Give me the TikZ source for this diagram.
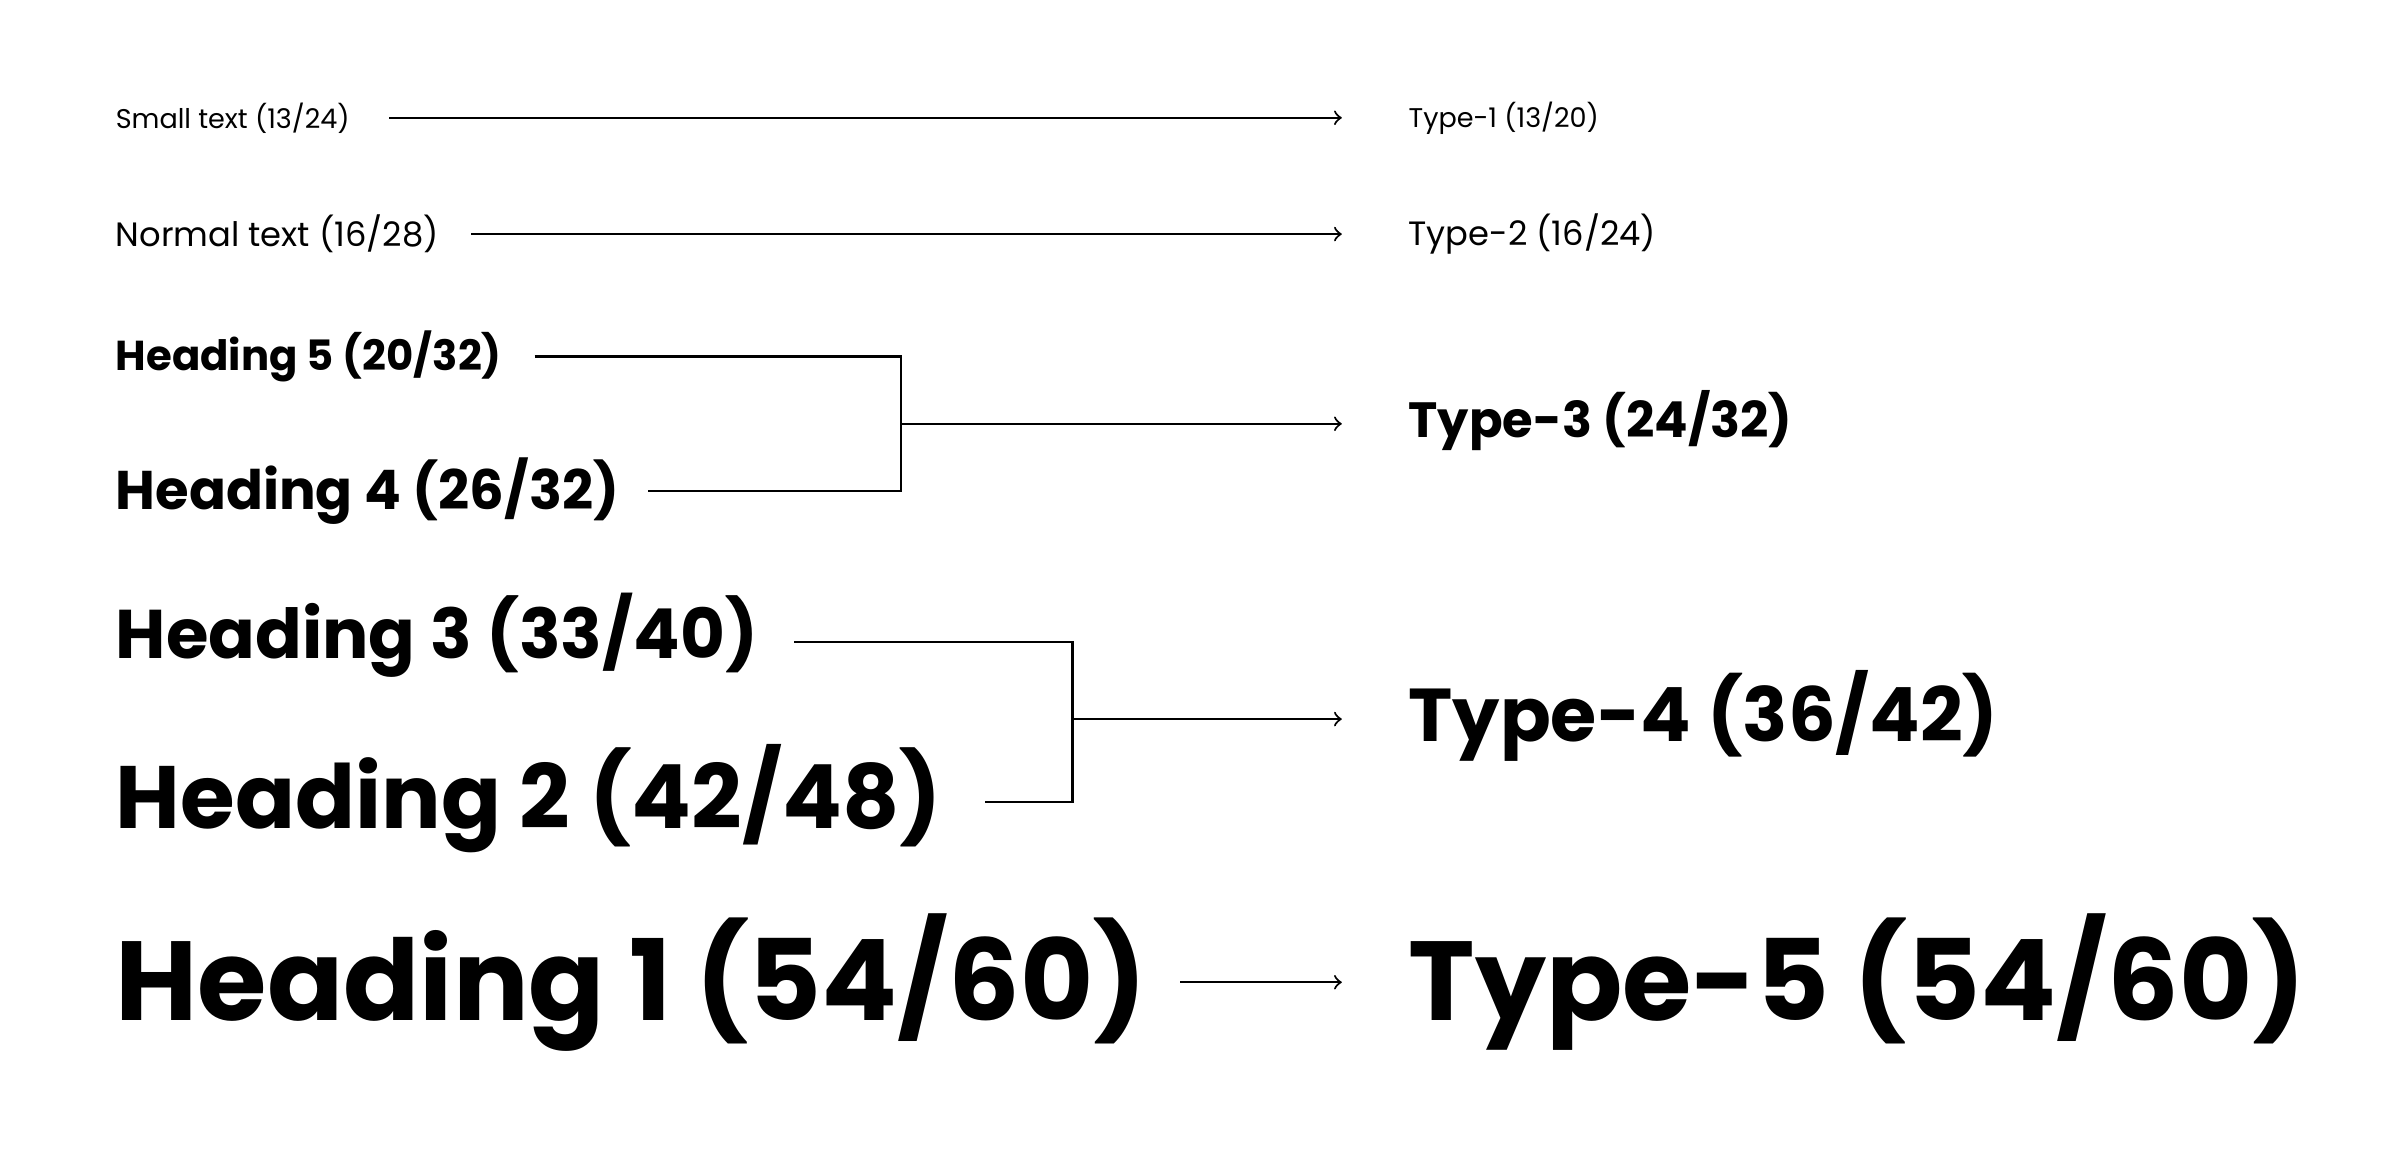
\documentclass[tikz,border=0pt]{standalone}
\usepackage{fontspec}
\setmainfont{Poppins}
\usepackage{tikz}
\newcommand{\fs}[1]{\fontsize{#1}{#1}\selectfont}

\begin{document}
\begin{tikzpicture}[x=0.0153cm,y=-0.0153cm,line width=0.6pt,
  lbl/.style={anchor=west,inner sep=0pt}]
\useasboundingbox (0,0) rectangle (1568,752);
% left column
\node[lbl] (s1) at (75,77) {\fs{7.7}Small text (13/24)};
\node[lbl] (s2) at (75,153) {\fs{9.6}Normal text (16/28)};
\node[lbl] (h5) at (75,233) {\fs{11.9}\bfseries Heading 5 (20/32)};
\node[lbl] (h4) at (75,321) {\fs{15.5}\bfseries Heading 4 (26/32)};
\node[lbl] (h3) at (75,415) {\fs{19.6}\bfseries Heading 3 (33/40)};
\node[lbl] (h2) at (75,522) {\fs{25.2}\bfseries Heading 2 (42/48)};
\node[lbl] (h1) at (75,642) {\fs{32}\bfseries Heading 1 (54/60)};
% right column
\node[lbl] (t1) at (920,77) {\fs{7.7}Type-1 (13/20)};
\node[lbl] (t2) at (920,153) {\fs{9.6}Type-2 (16/24)};
\node[lbl] (t3) at (920,275) {\fs{14.1}\bfseries Type-3 (24/32)};
\node[lbl] (t4) at (920,468) {\fs{21.3}\bfseries Type-4 (36/42)};
\node[lbl] (t5) at (920,642) {\fs{32}\bfseries Type-5 (54/60)};
\coordinate (j1) at (589,277);
\coordinate (j2) at (701,470);
\coordinate (e1) at (877,77);
\coordinate (e2) at (877,153);
\coordinate (e3) at (877,277);
\coordinate (e4) at (877,470);
\coordinate (e5) at (877,642);
% connectors
\draw[->] ([xshift=11pt]s1.east) -- (e1);
\draw[->] ([xshift=9pt]s2.east) -- (e2);
\draw ([xshift=9pt]h5.east) -| (j1) |- ([xshift=8pt]h4.east);
\draw[->] (j1) -- (e3);
\draw ([xshift=10pt,yshift=-2pt]h3.east) -| (j2) |- ([xshift=12pt,yshift=-1pt]h2.east);
\draw[->] (j2) -- (e4);
\draw[->] ([xshift=9pt]h1.east) -- (e5);
\end{tikzpicture}
\end{document}
